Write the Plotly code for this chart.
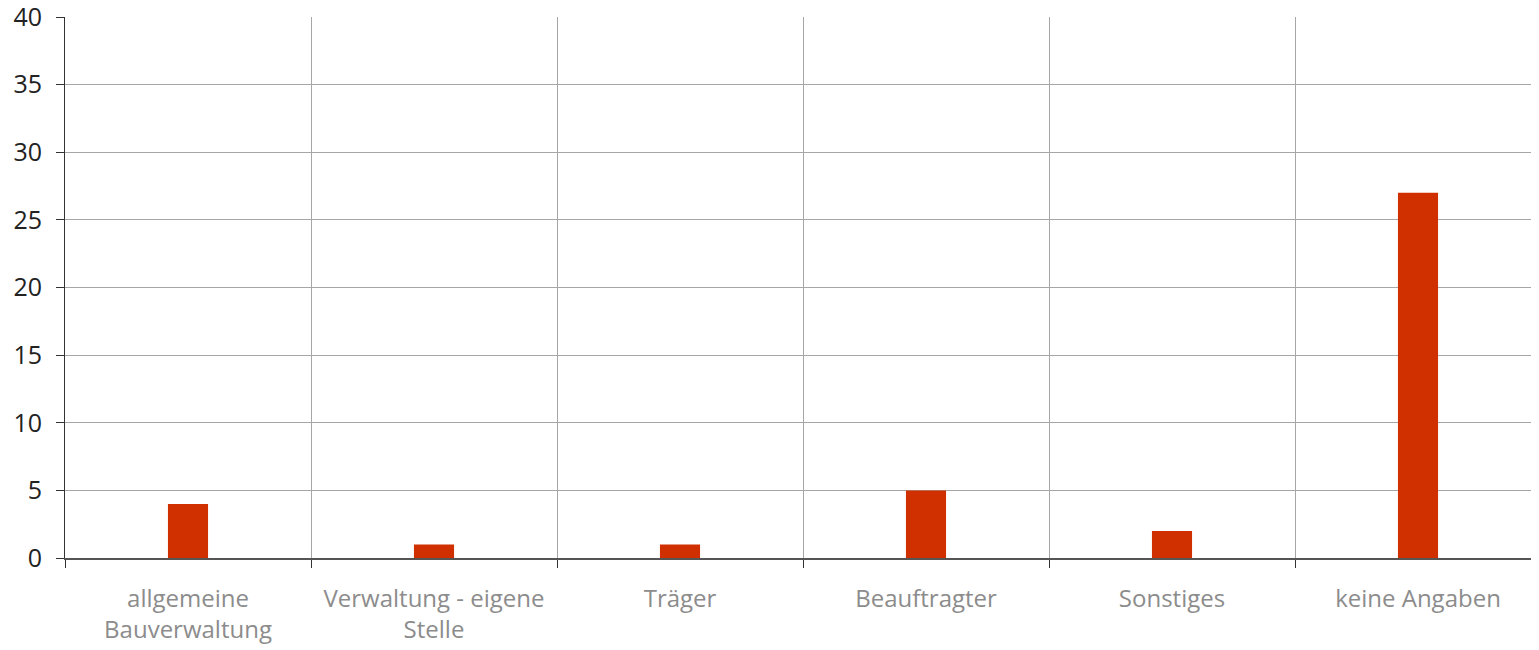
import plotly.graph_objects as go

categories = ["allgemeine<br>Bauverwaltung", "Verwaltung - eigene<br>Stelle", "Träger",
              "Beauftragter", "Sonstiges", "keine Angaben"]
values = [4, 1, 1, 5, 2, 27]
y_ticks = [0, 5, 10, 15, 20, 25, 30, 35, 40]

fig = go.Figure(go.Bar(x=categories, y=values, width=0.163, marker_color="#d03000",
                       marker_line_width=0))

# page body has an 8px default margin, so the figure is offset by (8, 8)
fig.update_layout(
    width=1533, height=642,
    margin=dict(l=57, r=0, t=9, b=92, autoexpand=False),
    plot_bgcolor="white", paper_bgcolor="white",
    showlegend=False,
    font=dict(family="Open Sans, sans-serif"),
)
fig.update_xaxes(
    type="category", tickson="boundaries", range=[-0.5, 5.5],
    showgrid=True, gridcolor="#a6a6a6", gridwidth=1,
    showline=True, linecolor="#555555", linewidth=1.5,
    ticks="outside", ticklen=8, tickcolor="#333333",
    tickfont=dict(size=24, color="#8c8c8c"),
    ticklabelstandoff=18, automargin=False, ticklabeloverflow="allow",
)
fig.update_yaxes(
    range=[0, 40], tickvals=y_ticks,
    showgrid=True, gridcolor="#a6a6a6", gridwidth=1,
    showline=True, linecolor="#333333", linewidth=1,
    ticks="outside", ticklen=8, tickcolor="#333333",
    tickfont=dict(size=25, color="#222222"),
    ticklabelstandoff=9, automargin=False, ticklabeloverflow="allow",
    zeroline=False,
)
fig.write_html("out.html")
